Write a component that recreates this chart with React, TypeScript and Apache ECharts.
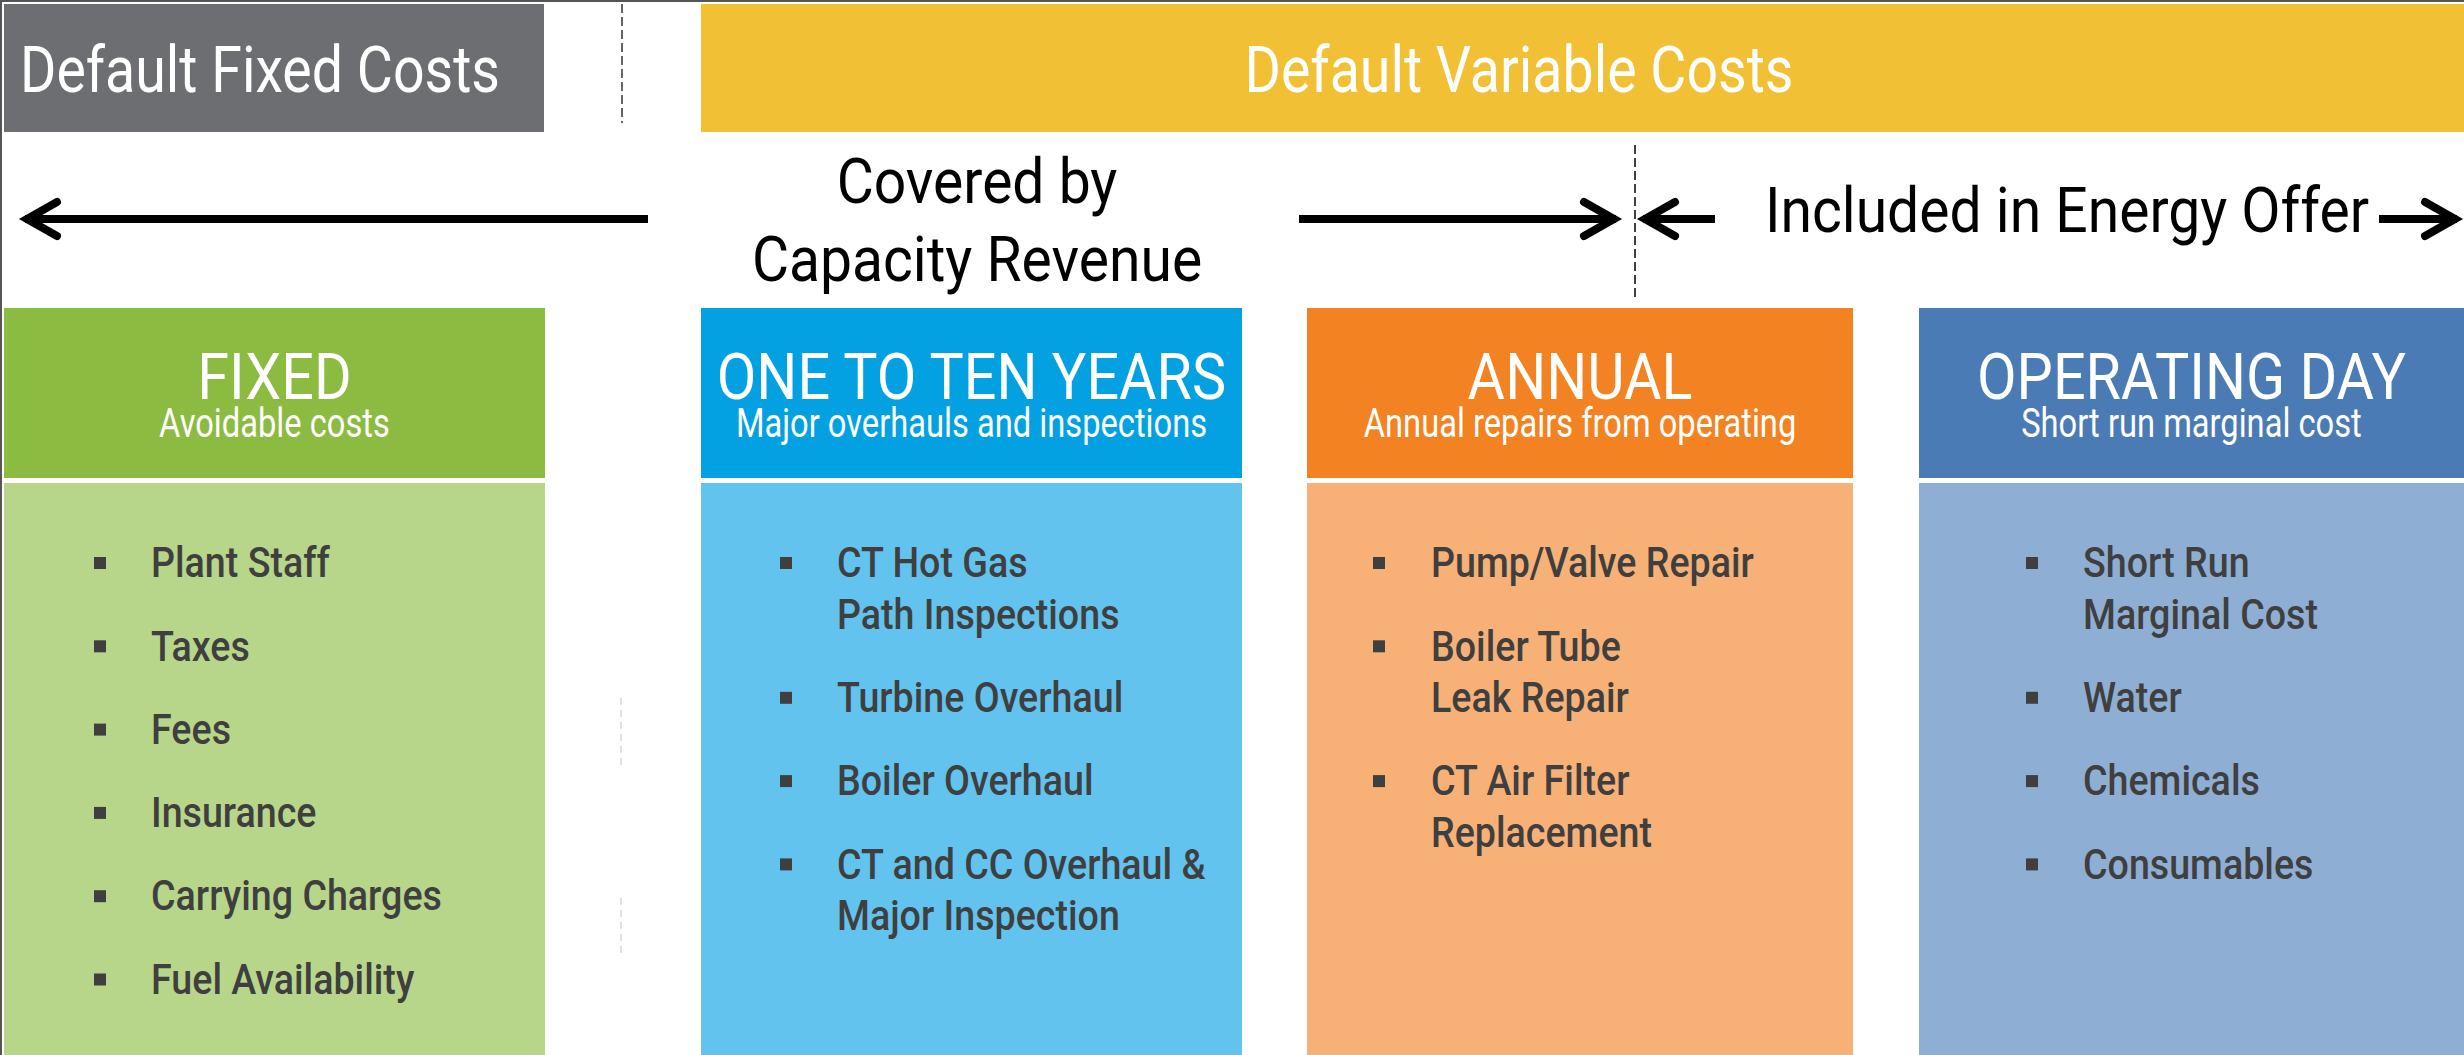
import React, { useEffect, useRef } from "react";
import * as echarts from "echarts";

// ---------- content ----------
const BANNER_LABELS = ["Default Fixed Costs", "Default Variable Costs"];
const REVENUE_LINES = ["Covered by", "Capacity Revenue"];
const ENERGY_LABEL = "Included in Energy Offer";
const COLUMN_TITLES = ["FIXED", "ONE TO TEN YEARS", "ANNUAL", "OPERATING DAY"];
const COLUMN_SUBTITLES = [
  "Avoidable costs",
  "Major overhauls and inspections",
  "Annual repairs from operating",
  "Short run marginal cost",
];
const FIXED_ITEMS = ["Plant Staff", "Taxes", "Fees", "Insurance", "Carrying Charges", "Fuel Availability"];
const TEN_YEAR_ITEMS = ["CT Hot Gas\nPath Inspections", "Turbine Overhaul", "Boiler Overhaul", "CT and CC Overhaul &\nMajor Inspection"];
const ANNUAL_ITEMS = ["Pump/Valve Repair", "Boiler Tube\nLeak Repair", "CT Air Filter\nReplacement"];
const OPERATING_ITEMS = ["Short Run\nMarginal Cost", "Water", "Chemicals", "Consumables"];
const COLUMN_ITEMS = [FIXED_ITEMS, TEN_YEAR_ITEMS, ANNUAL_ITEMS, OPERATING_ITEMS];

// ---------- styles / layout ----------
const W = 2464;
const H = 1055;
const FONT = "Roboto, 'Liberation Sans', Arial, sans-serif";
const HEADER_COLORS = ["#8bbb40", "#03a1e1", "#f38322", "#4a7bb5"];
const BODY_COLORS = ["#b7d68a", "#62c3ee", "#f7b176", "#8eaed3"];
const COL_LEFT = [4, 701, 1307, 1919];
const COL_RIGHT = [545, 1242, 1853, 2464];
const BULLET_X = [100, 786, 1379, 2032];
const TEXT_X = [151, 837, 1431, 2083];
const HEADER_TOP = 308;
const HEADER_BOTTOM = 478;
const BODY_TOP = 483;
const FIRST_LINE_Y = 563;
const ITEM_STEP = 83.3;
const LINE_STEP = 51.5;
const BULLET_COLOR = "#3f3f3f";

function measure(text: string, font: string): number {
  const ctx = document.createElement("canvas").getContext("2d")!;
  ctx.font = font;
  return ctx.measureText(text).width;
}

function condense(ref: string, size: number, weight: number | string, target: number): number {
  const w = measure(ref, `${weight} ${size}px Roboto`);
  return w > 0 ? target / w : 0.85;
}

function txt(text: string, x: number, y: number, size: number, weight: any, fill: string, align: string, sx: number) {
  return {
    type: "text",
    x,
    y,
    scaleX: sx,
    silent: true,
    style: {
      text,
      fontSize: size,
      fontFamily: FONT,
      fontWeight: weight,
      fill,
      textAlign: align,
      textVerticalAlign: "middle",
      align,
      verticalAlign: "middle",
    },
  };
}

function arrow(tail: number, tip: number, y: number) {
  const s = tip < tail ? 1 : -1; // arms extend back toward tail
  const v = tip + 6 * s;
  return [
    {
      type: "line",
      shape: { x1: tail, y1: y, x2: tip + 4 * s, y2: y },
      style: { stroke: "#000", lineWidth: 8, lineCap: "butt" },
    },
    {
      type: "polyline",
      shape: { points: [[v + 30 * s, y - 17], [v, y], [v + 30 * s, y + 17]] },
      style: { stroke: "#000", fill: null, lineWidth: 8, lineJoin: "miter", lineCap: "round" },
    },
  ];
}

export default function App() {
  const ref = useRef<HTMLDivElement>(null);
  useEffect(() => {
    if (!ref.current) return;
    const chart = echarts.init(ref.current, null, { renderer: "svg" });

    const bannerScale = condense(BANNER_LABELS[1], 64, 400, 549);
    const labelScale = condense(ENERGY_LABEL, 63, 400, 604);
    const titleScale = condense(COLUMN_TITLES[1], 64, 400, 512);
    const subScale = condense(COLUMN_SUBTITLES[1], 40, 400, 471);
    const bulletScale = condense(FIXED_ITEMS[4], 42, 500, 291);

    const els: any[] = [];
    els.push({ type: "rect", shape: { x: 0, y: 0, width: W, height: H }, style: { fill: "#ffffff" }, silent: true });

    // top banners
    els.push({ type: "rect", shape: { x: 4, y: 4, width: 540, height: 128 }, style: { fill: "#6d6e71" } });
    els.push({ type: "rect", shape: { x: 701, y: 4, width: W - 701, height: 128 }, style: { fill: "#f2c035" } });
    els.push(txt(BANNER_LABELS[0], 20, 70, 64, 400, "#ffffff", "left", bannerScale));
    els.push(txt(BANNER_LABELS[1], 1519, 70, 64, 400, "#ffffff", "center", bannerScale));

    // dashed separators
    els.push({ type: "line", shape: { x1: 622, y1: 4, x2: 622, y2: 123 }, style: { stroke: "#333", lineWidth: 1.5, lineDash: [9, 4] } });
    els.push({ type: "line", shape: { x1: 621, y1: 698, x2: 621, y2: 770 }, style: { stroke: "#d6d6d6", lineWidth: 1.5, lineDash: [7, 5] } });
    els.push({ type: "line", shape: { x1: 621, y1: 898, x2: 621, y2: 953 }, style: { stroke: "#d6d6d6", lineWidth: 1.5, lineDash: [7, 5] } });
    els.push({ type: "line", shape: { x1: 1635, y1: 145, x2: 1635, y2: 300 }, style: { stroke: "#000", lineWidth: 1.5, lineDash: [9, 4] } });

    // arrows
    els.push(...arrow(648, 21, 219));
    els.push(...arrow(1299, 1620, 219));
    els.push(...arrow(1715, 1639, 219));
    els.push(...arrow(2379, 2461, 219));

    // arrow labels
    els.push(txt(REVENUE_LINES[0], 977, 182, 63, 400, "#000000", "center", labelScale));
    els.push(txt(REVENUE_LINES[1], 977, 260, 63, 400, "#000000", "center", labelScale));
    els.push(txt(ENERGY_LABEL, 1765, 211, 63, 400, "#000000", "left", labelScale));

    // columns
    COLUMN_TITLES.forEach((title, i) => {
      const x0 = COL_LEFT[i];
      const w = COL_RIGHT[i] - x0;
      const cx = x0 + w / 2;
      els.push({ type: "rect", shape: { x: x0, y: HEADER_TOP, width: w, height: HEADER_BOTTOM - HEADER_TOP }, style: { fill: HEADER_COLORS[i] } });
      els.push({ type: "rect", shape: { x: x0, y: BODY_TOP, width: w, height: H - BODY_TOP }, style: { fill: BODY_COLORS[i] } });
      els.push(txt(title, cx, 377, 64, 400, "#ffffff", "center", titleScale));
      els.push(txt(COLUMN_SUBTITLES[i], cx, 423, 40, 400, "#ffffff", "center", subScale));

      let y = FIRST_LINE_Y;
      COLUMN_ITEMS[i].forEach((item) => {
        const lines = item.split("\n");
        els.push({
          type: "rect",
          shape: { x: BULLET_X[i] - 6, y: y - 6, width: 12, height: 12 },
          style: { fill: BULLET_COLOR },
        });
        lines.forEach((ln, k) => {
          els.push(txt(ln, TEXT_X[i], y + k * LINE_STEP, 42, 500, BULLET_COLOR, "left", bulletScale));
        });
        y += (lines.length - 1) * LINE_STEP + ITEM_STEP;
      });
    });

    // frame edges
    els.push({ type: "line", shape: { x1: 0, y1: 1, x2: W, y2: 1 }, style: { stroke: "#555", lineWidth: 2 } });
    els.push({ type: "line", shape: { x1: 1, y1: 0, x2: 1, y2: H }, style: { stroke: "#555", lineWidth: 2 } });

    chart.setOption({ animation: false, graphic: { elements: els } });
    return () => chart.dispose();
  }, []);

  return (
    <div
      ref={ref}
      style={{ position: "fixed", left: 0, top: 0, width: W, height: H, background: "#fff" }}
    />
  );
}
